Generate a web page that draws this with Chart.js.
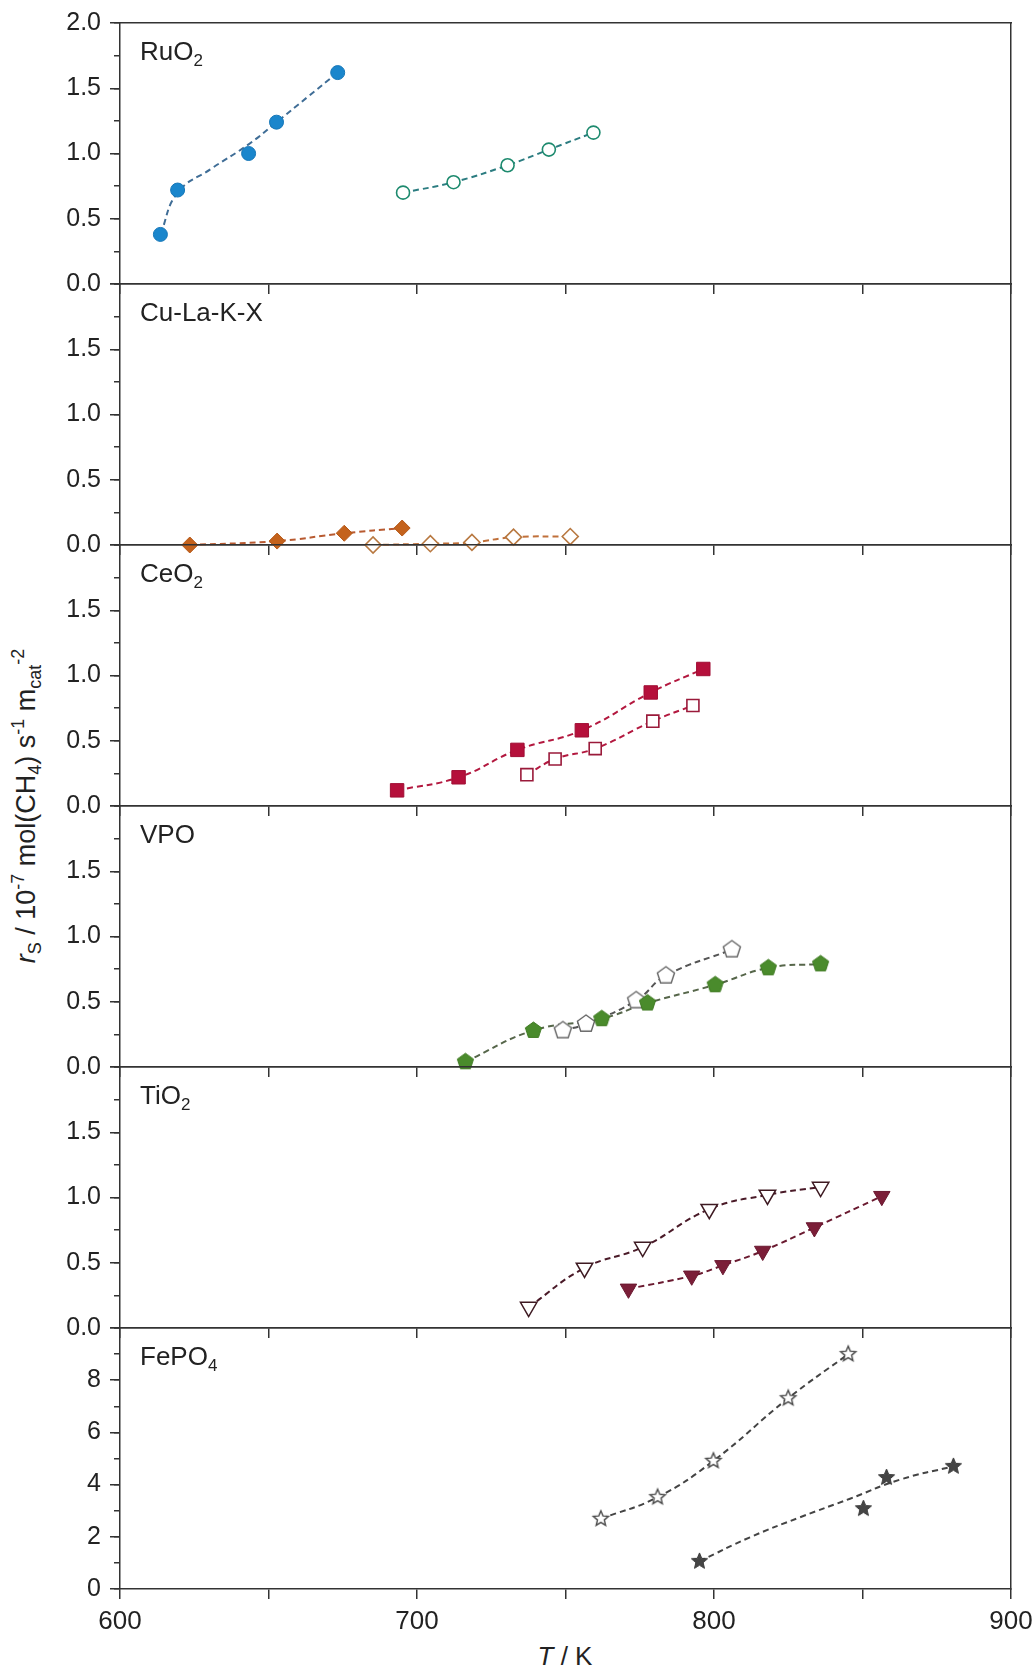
<!DOCTYPE html>
<html><head><meta charset="utf-8">
<script src="https://cdn.jsdelivr.net/npm/chart.js@4.4.1/dist/chart.umd.min.js"></script>
<style>
html,body{margin:0;padding:0;background:#fff;}
#wrap{position:relative;width:1036px;height:1670px;overflow:hidden;font-family:"Liberation Sans",Arial,sans-serif;color:#222;}
#wrap canvas{position:absolute;left:0;}
.lbl{position:absolute;left:140px;font-size:26px;line-height:26px;white-space:nowrap;}
.lbl sub{font-size:17px;vertical-align:-6px;line-height:0;}
#ytitle{position:absolute;left:26px;top:806px;transform:translate(-50%,-50%) rotate(-90deg);font-size:27px;line-height:27px;white-space:nowrap;}
#ytitle sub{font-size:18px;vertical-align:-6px;line-height:0;}
#ytitle sup{font-size:18px;vertical-align:11px;line-height:0;}
#xtitle{position:absolute;left:565px;top:1656px;transform:translate(-50%,-50%);font-size:26px;line-height:26px;white-space:nowrap;}
</style></head>
<body>
<div id="wrap">
<div id="ytitle"><i>r</i><sub>S</sub> / 10<sup>-7</sup> mol(CH<sub>4</sub>) s<sup>-1</sup> m<sub>cat</sub><sup>-2</sup></div>
<div id="xtitle"><i>T</i> / K</div>
</div>
<script>
// ---------------- data ----------------
const panelNames = ['RuO<sub>2</sub>', 'Cu-La-K-X', 'CeO<sub>2</sub>', 'VPO', 'TiO<sub>2</sub>', 'FePO<sub>4</sub>'];
const xTickValues = [600, 700, 800, 900];

const ruo2FilledT = [613.6, 619.4, 643.3, 652.7, 673.3];
const ruo2FilledR = [0.38, 0.72, 1.00, 1.24, 1.62];
const ruo2FitT = [613.6, 619.4, 630.5, 643.3, 652.7, 663.0, 673.3];
const ruo2FitR = [0.38, 0.70, 0.88, 1.07, 1.24, 1.43, 1.62];
const ruo2OpenT = [695.3, 712.3, 730.5, 744.4, 759.4];
const ruo2OpenR = [0.70, 0.78, 0.91, 1.03, 1.16];

const cuFilledT = [623.5, 652.9, 675.5, 695.0];
const cuFilledR = [0.00, 0.03, 0.09, 0.13];
const cuOpenT = [685.2, 704.5, 718.5, 732.5, 751.6];
const cuOpenR = [0.00, 0.01, 0.02, 0.06, 0.065];

const ceFilledT = [693.3, 714.0, 733.8, 755.5, 778.7, 796.4];
const ceFilledR = [0.12, 0.22, 0.43, 0.58, 0.87, 1.05];
const ceOpenT = [737.0, 746.5, 760.0, 779.4, 792.9];
const ceOpenR = [0.24, 0.36, 0.44, 0.65, 0.77];

const vpoFilledT = [716.3, 739.2, 762.2, 777.6, 800.4, 818.3, 835.9];
const vpoFilledR = [0.04, 0.28, 0.37, 0.49, 0.63, 0.76, 0.79];
const vpoOpenT = [749.1, 756.9, 773.8, 783.8, 806.0];
const vpoOpenR = [0.28, 0.33, 0.51, 0.70, 0.90];

const tiOpenT = [737.6, 756.4, 776.0, 798.4, 818.0, 835.9];
const tiOpenR = [0.16, 0.46, 0.62, 0.91, 1.02, 1.08];
const tiFilledT = [771.2, 792.5, 803.0, 816.4, 833.8, 856.5];
const tiFilledR = [0.30, 0.40, 0.48, 0.59, 0.77, 1.01];

const fepOpenT = [761.9, 781.0, 799.8, 825.0, 845.2];
const fepOpenR = [2.69, 3.52, 4.91, 7.31, 9.00];
const fepFilledT = [795.1, 850.3, 858.1, 880.6];
const fepFilledR = [1.06, 3.08, 4.27, 4.70];
const fepFitT = [795.1, 812.1, 829.0, 845.8, 862.6, 880.6];
const fepFitR = [1.06, 1.98, 2.75, 3.46, 4.19, 4.70];

// ---------------- styling ----------------
const AX = '#333';
const FONT_Y = {family: '"Liberation Sans", Arial, sans-serif', size: 25};
const FONT_X = {family: '"Liberation Sans", Arial, sans-serif', size: 26};
const PANEL_H = 261;
const PT = [23, 284, 545, 806, 1067, 1328];

function pts(t, r) { return t.map((v, i) => ({x: v, y: r[i]})); }

function shapeCanvas(kind, R, fill, stroke, lw) {
  const pad = 2, size = Math.ceil(2 * R + 2 * pad);
  const c = document.createElement('canvas');
  c.width = size; c.height = size;
  const g = c.getContext('2d');
  const cx = size / 2, cy = size / 2;
  const n = kind === 'star' ? 10 : 5;
  g.beginPath();
  for (let k = 0; k < n; k++) {
    const a = -Math.PI / 2 + k * 2 * Math.PI / n;
    const r = kind === 'star' ? (k % 2 ? R * 0.45 : R) : R;
    const px = cx + r * Math.cos(a), py = cy + r * Math.sin(a);
    if (k === 0) g.moveTo(px, py); else g.lineTo(px, py);
  }
  g.closePath();
  g.fillStyle = fill; g.fill();
  g.lineWidth = lw; g.strokeStyle = stroke; g.stroke();
  return c;
}

function markers(data, style) {
  return Object.assign({data, showLine: false, order: 0, clip: false}, style);
}
function line(data, color) {
  return {data, showLine: true, pointRadius: 0, pointHoverRadius: 0, borderColor: color,
    borderWidth: 2, borderDash: [6, 4], tension: 0.45, fill: false,
    order: 1, clip: false};
}

const panels = [
  {ymax: 2, major: 0.5, minor: 0.25, dec: 1, datasets: [
    line(pts(ruo2FitT, ruo2FitR), '#3f6d96'),
    markers(pts(ruo2FilledT, ruo2FilledR), {pointStyle: 'circle', pointRadius: 7, pointBackgroundColor: '#1a86cc', pointBorderColor: '#1677b8', pointBorderWidth: 1}),
    line(pts(ruo2OpenT, ruo2OpenR), '#2b7c80'),
    markers(pts(ruo2OpenT, ruo2OpenR), {pointStyle: 'circle', pointRadius: 6.5, pointBackgroundColor: '#fff', pointBorderColor: '#1d8a6e', pointBorderWidth: 1.6})
  ]},
  {ymax: 2, major: 0.5, minor: 0.25, dec: 1, datasets: [
    line(pts(cuFilledT, cuFilledR), '#b85a30'),
    markers(pts(cuFilledT, cuFilledR), {pointStyle: 'rectRot', pointRadius: 8, pointBackgroundColor: '#c4621c', pointBorderColor: '#b55818', pointBorderWidth: 1}),
    line(pts(cuOpenT, cuOpenR), '#c0703a'),
    markers(pts(cuOpenT, cuOpenR), {pointStyle: 'rectRot', pointRadius: 8, pointBackgroundColor: '#fff', pointBorderColor: '#b87840', pointBorderWidth: 1.6})
  ]},
  {ymax: 2, major: 0.5, minor: 0.25, dec: 1, datasets: [
    line(pts(ceFilledT, ceFilledR), '#b3183f'),
    markers(pts(ceFilledT, ceFilledR), {pointStyle: 'rect', pointRadius: 9.5, pointBackgroundColor: '#b5103b', pointBorderColor: '#a00e34', pointBorderWidth: 1}),
    line(pts(ceOpenT, ceOpenR), '#b3183f'),
    markers(pts(ceOpenT, ceOpenR), {pointStyle: 'rect', pointRadius: 8.5, pointBackgroundColor: '#fff', pointBorderColor: '#9a1a3a', pointBorderWidth: 1.6})
  ]},
  {ymax: 2, major: 0.5, minor: 0.25, dec: 1, datasets: [
    line(pts(vpoFilledT, vpoFilledR), '#56664a'),
    markers(pts(vpoFilledT, vpoFilledR), {pointStyle: shapeCanvas('pent', 8.5, '#4a8b2c', '#3f7a22', 1)}),
    line(pts(vpoOpenT, vpoOpenR), '#555'),
    markers(pts(vpoOpenT, vpoOpenR), {pointStyle: shapeCanvas('pent', 9, '#fff', '#666', 1.4)})
  ]},
  {ymax: 2, major: 0.5, minor: 0.25, dec: 1, datasets: [
    line(pts(tiOpenT, tiOpenR), '#4a1a28'),
    markers(pts(tiOpenT, tiOpenR), {pointStyle: 'triangle', pointRotation: 180, pointRadius: 9.5, pointBackgroundColor: '#fff', pointBorderColor: '#3e1a22', pointBorderWidth: 1.5}),
    line(pts(tiFilledT, tiFilledR), '#6a1a30'),
    markers(pts(tiFilledT, tiFilledR), {pointStyle: 'triangle', pointRotation: 180, pointRadius: 9.5, pointBackgroundColor: '#7b1e38', pointBorderColor: '#6a1830', pointBorderWidth: 1})
  ]},
  {ymax: 10, major: 2, minor: 1, dec: 0, datasets: [
    line(pts(fepOpenT, fepOpenR), '#444'),
    markers(pts(fepOpenT, fepOpenR), {pointStyle: shapeCanvas('star', 8, '#fff', '#4a4a4a', 1.4)}),
    line(pts(fepFitT, fepFitR), '#444'),
    markers(pts(fepFilledT, fepFilledR), {pointStyle: shapeCanvas('star', 8.5, '#454545', '#3a3a3a', 1)})
  ]}
];

const wrap = document.getElementById('wrap');
function noPad(s) { s.paddingTop = 0; s.paddingBottom = 0; s.paddingLeft = 0; s.paddingRight = 0; }

panels.forEach((p, idx) => {
  const last = idx === panels.length - 1;
  const padTop = idx === 0 ? PT[0] : 3;
  const B = last ? (1670 - (PT[idx] + PANEL_H)) : 14;
  const canvas = document.createElement('canvas');
  canvas.width = 1036;
  canvas.height = padTop + PANEL_H + B;
  canvas.style.top = (PT[idx] - padTop) + 'px';
  wrap.appendChild(canvas);

  const lbl = document.createElement('div');
  lbl.className = 'lbl';
  lbl.style.top = (PT[idx] + 15) + 'px';
  lbl.innerHTML = panelNames[idx];
  wrap.appendChild(lbl);

  new Chart(canvas, {
    type: 'scatter',
    data: {datasets: p.datasets},
    options: {
      responsive: false, animation: false, devicePixelRatio: 1, events: [],
      layout: {autoPadding: false, padding: {left: 0, right: 25, top: padTop, bottom: 0}},
      plugins: {legend: {display: false}, tooltip: {enabled: false}},
      scales: {
        x: {type: 'linear', position: 'bottom', min: 600, max: 900,
          afterFit: s => { s.height = B; noPad(s); },
          ticks: {display: last, stepSize: 50, autoSkip: false, maxRotation: 0, padding: 7, font: FONT_X, color: '#222',
            callback: v => xTickValues.includes(v) ? String(v) : ''},
          grid: {drawOnChartArea: false, tickLength: 10, color: AX, lineWidth: 1.5},
          border: {display: true, color: AX, width: 1.5}},
        xt: {type: 'linear', position: 'top', min: 600, max: 900,
          afterFit: s => { s.height = 0; noPad(s); },
          ticks: {display: false}, grid: {display: false},
          border: {display: true, color: AX, width: 1.5}},
        y: {type: 'linear', position: 'left', weight: 2, min: 0, max: p.ymax,
          afterFit: s => { s.width = 120; noPad(s); },
          ticks: {stepSize: p.major, padding: 9, font: FONT_Y, color: '#222', autoSkip: false,
            callback: v => (idx > 0 && v === p.ymax) ? '' : Number(v).toFixed(p.dec)},
          grid: {drawOnChartArea: false, tickLength: 10, color: AX, lineWidth: 1.5},
          border: {display: true, color: AX, width: 1.5}},
        ym: {type: 'linear', position: 'left', weight: 1, min: 0, max: p.ymax,
          afterFit: s => { s.width = 0; noPad(s); },
          ticks: {display: false, stepSize: p.minor, autoSkip: false},
          grid: {drawOnChartArea: false, tickLength: 6, color: AX, lineWidth: 1.5},
          border: {display: false}},
        yr: {type: 'linear', position: 'right', min: 0, max: p.ymax,
          afterFit: s => { s.width = 0; noPad(s); },
          ticks: {display: false}, grid: {display: false},
          border: {display: true, color: AX, width: 1.5}}
      }
    }
  });
});
</script>
</body></html>
